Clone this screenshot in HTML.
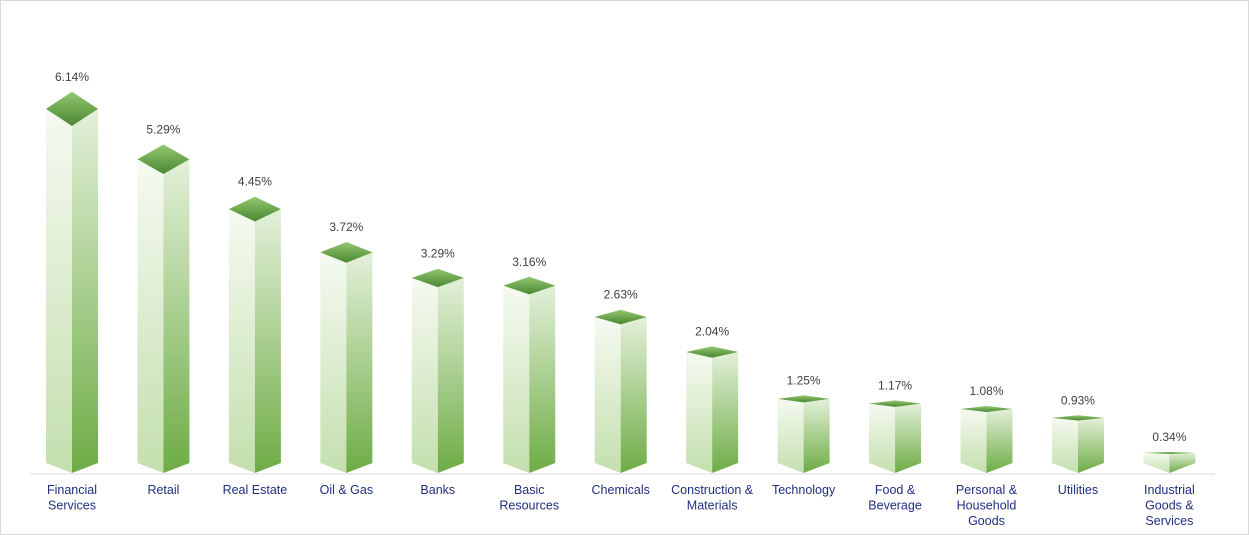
<!DOCTYPE html>
<html><head><meta charset="utf-8"><style>
html,body{margin:0;padding:0;background:#fff}
svg{display:block}
</style></head><body>
<svg id="c" width="1249" height="535" xmlns="http://www.w3.org/2000/svg">
<defs>
<linearGradient id="gl" x1="0" y1="0" x2="0" y2="1"><stop offset="0" stop-color="#f5faf1"/><stop offset="1" stop-color="#c4dfae"/></linearGradient>
<linearGradient id="gr" x1="0" y1="0" x2="0" y2="1"><stop offset="0" stop-color="#e3f0d9"/><stop offset="1" stop-color="#6eac45"/></linearGradient>
<linearGradient id="gt" x1="0" y1="0" x2="0" y2="1"><stop offset="0" stop-color="#94c872"/><stop offset="1" stop-color="#4a8630"/></linearGradient>
</defs>
<rect x="0.5" y="0.5" width="1248" height="534" fill="#fff" stroke="#d9d9d9"/>
<line x1="30" y1="474" x2="1215" y2="474" stroke="#d9d9d9" stroke-width="1"/>
<g id="bars"></g>
</svg>
<script>
var data=[[6.14,["Financial","Services"]],[5.29,["Retail"]],[4.45,["Real Estate"]],[3.72,["Oil & Gas"]],[3.29,["Banks"]],[3.16,["Basic","Resources"]],[2.63,["Chemicals"]],[2.04,["Construction &","Materials"]],[1.25,["Technology"]],[1.17,["Food &","Beverage"]],[1.08,["Personal &","Household","Goods"]],[0.93,["Utilities"]],[0.34,["Industrial","Goods &","Services"]]];
var g=document.getElementById('bars'),s='';
data.forEach(function(d,i){
var cx=72+i*91.45,w=26,v=d[0];
var mid=473-v*59.3;var h=Math.max(1,0.047*(473-mid));
var top=mid-h,front=mid+h;
var bs=463,bc=473;
s+='<polygon points="'+(cx-w)+','+mid+' '+cx+','+front+' '+cx+','+bc+' '+(cx-w)+','+bs+'" fill="url(#gl)"/>';
s+='<polygon points="'+cx+','+front+' '+(cx+w)+','+mid+' '+(cx+w)+','+bs+' '+cx+','+bc+'" fill="url(#gr)"/>';
s+='<polygon points="'+(cx-w)+','+mid+' '+cx+','+top+' '+(cx+w)+','+mid+' '+cx+','+front+'" fill="url(#gt)"/>';
s+='<text x="'+cx+'" y="'+(top-11)+'" text-anchor="middle" font-family="Liberation Sans, sans-serif" font-size="12" fill="#404040">'+v.toFixed(2)+'%</text>';
d[1].forEach(function(t,j){
s+='<text x="'+cx+'" y="'+(494+j*15.5)+'" text-anchor="middle" font-family="Liberation Sans, sans-serif" font-size="12.5" fill="#1f2f80">'+t.replace('&','&amp;')+'</text>';
});
});
g.innerHTML=s;
</script>
</body></html>
